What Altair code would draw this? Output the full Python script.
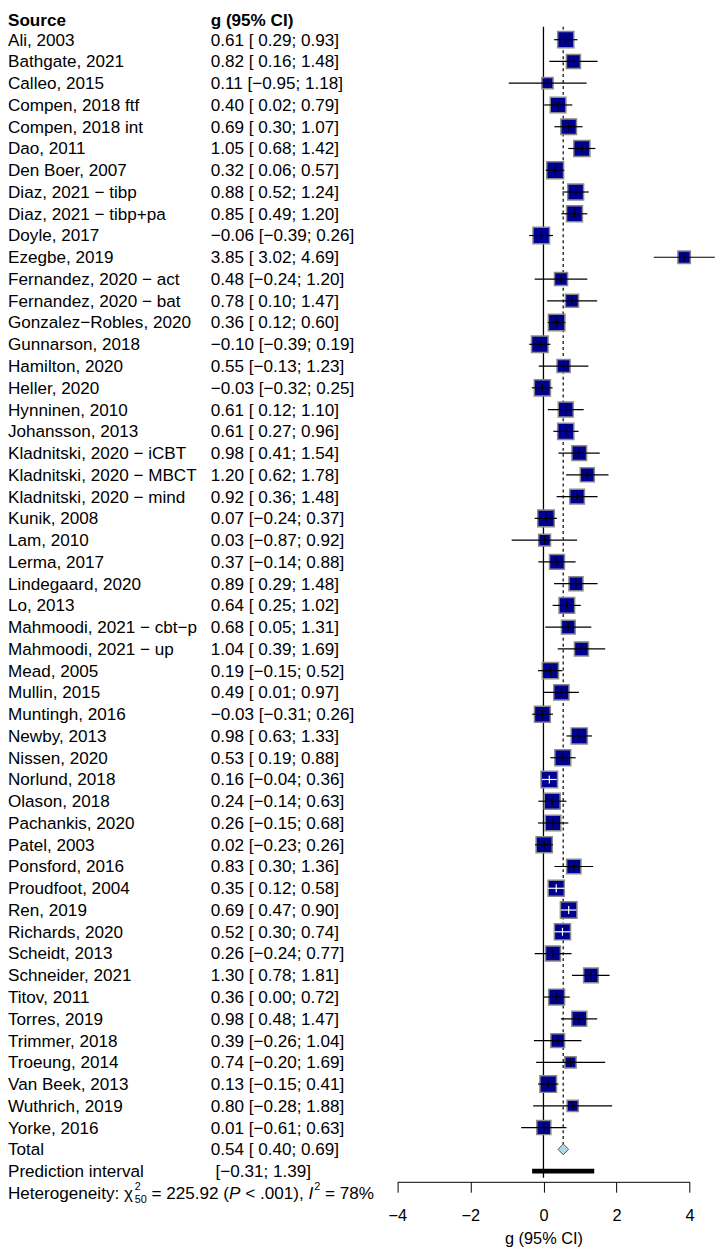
import altair as alt
import pandas as pd

# ---------------- data ----------------
studies = [
    "Ali, 2003", "Bathgate, 2021", "Calleo, 2015", "Compen, 2018 ftf", "Compen, 2018 int",
    "Dao, 2011", "Den Boer, 2007", "Diaz, 2021 \u2212 tibp", "Diaz, 2021 \u2212 tibp+pa", "Doyle, 2017",
    "Ezegbe, 2019", "Fernandez, 2020 \u2212 act", "Fernandez, 2020 \u2212 bat", "Gonzalez\u2212Robles, 2020",
    "Gunnarson, 2018", "Hamilton, 2020", "Heller, 2020", "Hynninen, 2010", "Johansson, 2013",
    "Kladnitski, 2020 \u2212 iCBT", "Kladnitski, 2020 \u2212 MBCT", "Kladnitski, 2020 \u2212 mind",
    "Kunik, 2008", "Lam, 2010", "Lerma, 2017", "Lindegaard, 2020", "Lo, 2013",
    "Mahmoodi, 2021 \u2212 cbt\u2212p", "Mahmoodi, 2021 \u2212 up", "Mead, 2005", "Mullin, 2015",
    "Muntingh, 2016", "Newby, 2013", "Nissen, 2020", "Norlund, 2018", "Olason, 2018",
    "Pachankis, 2020", "Patel, 2003", "Ponsford, 2016", "Proudfoot, 2004", "Ren, 2019",
    "Richards, 2020", "Scheidt, 2013", "Schneider, 2021", "Titov, 2011", "Torres, 2019",
    "Trimmer, 2018", "Troeung, 2014", "Van Beek, 2013", "Wuthrich, 2019", "Yorke, 2016",
]
g = [0.61, 0.82, 0.11, 0.40, 0.69, 1.05, 0.32, 0.88, 0.85, -0.06,
     3.85, 0.48, 0.78, 0.36, -0.10, 0.55, -0.03, 0.61, 0.61, 0.98,
     1.20, 0.92, 0.07, 0.03, 0.37, 0.89, 0.64, 0.68, 1.04, 0.19,
     0.49, -0.03, 0.98, 0.53, 0.16, 0.24, 0.26, 0.02, 0.83, 0.35,
     0.69, 0.52, 0.26, 1.30, 0.36, 0.98, 0.39, 0.74, 0.13, 0.80, 0.01]
lo = [0.29, 0.16, -0.95, 0.02, 0.30, 0.68, 0.06, 0.52, 0.49, -0.39,
      3.02, -0.24, 0.10, 0.12, -0.39, -0.13, -0.32, 0.12, 0.27, 0.41,
      0.62, 0.36, -0.24, -0.87, -0.14, 0.29, 0.25, 0.05, 0.39, -0.15,
      0.01, -0.31, 0.63, 0.19, -0.04, -0.14, -0.15, -0.23, 0.30, 0.12,
      0.47, 0.30, -0.24, 0.78, 0.00, 0.48, -0.26, -0.20, -0.15, -0.28, -0.61]
hi = [0.93, 1.48, 1.18, 0.79, 1.07, 1.42, 0.57, 1.24, 1.20, 0.26,
      4.69, 1.20, 1.47, 0.60, 0.19, 1.23, 0.25, 1.10, 0.96, 1.54,
      1.78, 1.48, 0.37, 0.92, 0.88, 1.48, 1.02, 1.31, 1.69, 0.52,
      0.97, 0.26, 1.33, 0.88, 0.36, 0.63, 0.68, 0.26, 1.36, 0.58,
      0.90, 0.74, 0.77, 1.81, 0.72, 1.47, 1.04, 1.69, 0.41, 1.88, 0.63]
# estimated study weights (%), read from the square sizes
weight = [2.26, 1.70, 1.09, 2.11, 2.11, 2.26, 2.45, 2.18, 2.18, 2.37,
          1.34, 1.48, 1.48, 2.37, 2.37, 1.48, 2.26, 1.93, 2.26, 1.86,
          1.70, 1.86, 2.37, 1.22, 1.93, 1.70, 2.11, 1.63, 1.70, 2.26,
          2.01, 2.18, 2.26, 2.18, 2.37, 2.18, 2.11, 2.26, 1.77, 2.26,
          2.37, 2.26, 1.93, 1.86, 2.18, 1.93, 1.63, 1.09, 2.37, 1.09, 1.70]
# studies whose CI lies inside the square (line drawn white)
ci_inside = ["Norlund, 2018", "Proudfoot, 2004", "Ren, 2019", "Richards, 2020"]

total_est, total_lo, total_hi = 0.54, 0.40, 0.69
pred_lo, pred_hi = -0.31, 1.39
q_stat, q_df, p_text, i2 = 225.92, 50, "< .001", 78
x_ticks = [-4, -2, 0, 2, 4]

MINUS = "\u2212"


def num(v, w=0):
    s = f"{v:{w}.2f}"
    return s.replace("-", MINUS)


def ci_text(e, l, h):
    return f"{num(e)} [{num(l, 5)}; {num(h)}]"


n = len(studies)
df = pd.DataFrame({
    "study": studies, "g": g, "lo": lo, "hi": hi, "weight": weight,
    "row": list(range(n)),
})
df["col"] = ["white" if s in ci_inside else "black" for s in studies]
df["label"] = [ci_text(a, b, c) for a, b, c in zip(g, lo, hi)]

text_rows = pd.DataFrame({
    "row": list(range(n)) + [n, n + 1],
    "name": studies + ["Total", "Prediction interval"],
    "value": list(df["label"]) + [ci_text(total_est, total_lo, total_hi), ""],
})
pi_text = pd.DataFrame({"row": [n + 1], "value": [f"[{num(pred_lo)}; {num(pred_hi)}]"]})
header = pd.DataFrame({"row": [-1], "name": ["Source"], "value": ["g (95% CI)"]})

diamond = pd.DataFrame({
    "x": [total_lo, total_est, total_hi],
    "ytop": [n, n - 0.25, n],
    "ybot": [n, n + 0.25, n],
})
pred = pd.DataFrame({"lo": [pred_lo], "hi": [pred_hi], "row": [n + 1]})
ref_solid = pd.DataFrame({"x": [0.0], "y": [-0.6], "y2": [n + 1.3]})
ref_dash = pd.DataFrame({"x": [total_est], "y": [-0.6], "y2": [n - 0.25]})

# ---------------- styling / scales ----------------
FONT = "Liberation Sans"
FS = 17.3
SMALL = 11.0
VALCOL = 205
x_scale = alt.Scale(domain=[-4, 4], range=[393.7, 689.3], nice=False, zero=False)
y_scale = alt.Scale(domain=[0, 53], range=[25, 1191.2], nice=False, zero=False)
x_axis = alt.Axis(values=x_ticks, title="g (95% CI)", grid=False,
                  labelFontSize=16.5, titleFontSize=16.5, titleFontWeight="normal",
                  labelFont=FONT, titleFont=FONT, tickSize=10.5, labelPadding=16,
                  titlePadding=6, domainColor="black", tickColor="black",
                  labelColor="black", titleColor="black", domainWidth=1, tickWidth=1,
                  labelFlush=False)


def X(field):
    return alt.X(field, type="quantitative", scale=x_scale, axis=x_axis)


def Y(field):
    return alt.Y(field, type="quantitative", scale=y_scale, axis=None)


solid = alt.Chart(ref_solid).mark_rule(color="black", strokeWidth=1.3).encode(
    x=X("x"), y=Y("y"), y2="y2")
dashed = alt.Chart(ref_dash).mark_rule(color="black", strokeWidth=1.2, strokeDash=[3, 3]).encode(
    x=X("x"), y=Y("y"), y2="y2")

squares = alt.Chart(df).mark_square(fill="#000090", stroke="#8a8a8a", strokeWidth=1.5,
                                    opacity=1, filled=True).encode(
    x=X("g"), y=Y("row"),
    size=alt.Size("weight:Q", scale=alt.Scale(domain=[0, 3], range=[0, 355]), legend=None))

ci = alt.Chart(df).mark_rule(strokeWidth=1.2).encode(
    x=X("lo"), x2="hi", y=Y("row"), color=alt.Color("col:N", scale=None))

est_tick = alt.Chart(df).mark_tick(orient="vertical", size=8, thickness=1.2, opacity=1).encode(
    x=X("g"), y=Y("row"), color=alt.Color("col:N", scale=None))

dia = alt.Chart(diamond).mark_area(orient="vertical", fill="#add8e6", stroke="#555555",
                                   strokeWidth=1, opacity=1).encode(
    x=X("x"), y=Y("ytop"), y2="ybot")

pi_bar = alt.Chart(pred).mark_rule(color="black", strokeWidth=5, strokeCap="butt").encode(
    x=X("lo"), x2="hi", y=Y("row"))

# ---- text metrics (Arial / Liberation Sans advance widths, per 1000 em) ----
ADV = {" ": 278, ".": 278, ",": 278, ":": 278, "(": 333, ")": 333, "=": 584,
       "<": 584, "%": 889, "H": 722, "P": 667, "I": 278, "e": 556, "t": 278, "r": 333,
       "o": 556, "g": 556, "n": 556, "i": 222, "y": 500, "\u03c7": 540}


def tw(s, fs):
    return sum(ADV.get(c, 556) for c in s) / 1000.0 * fs


txt = dict(align="left", baseline="middle", font=FONT, fontSize=FS, color="black")
names = alt.Chart(text_rows).mark_text(dy=1, **txt).encode(
    x=alt.value(0), y=Y("row"), text="name:N")
values = alt.Chart(text_rows).mark_text(dy=1, **txt).encode(
    x=alt.value(VALCOL), y=Y("row"), text="value:N")
pi_values = alt.Chart(pi_text).mark_text(dy=1, **txt).encode(
    x=alt.value(VALCOL + tw(" ", FS)), y=Y("row"), text="value:N")
head_names = alt.Chart(header).mark_text(dy=3.5, fontWeight="bold", **txt).encode(
    x=alt.value(0), y=Y("row"), text="name:N")
head_values = alt.Chart(header).mark_text(dy=3.5, fontWeight="bold", **txt).encode(
    x=alt.value(VALCOL), y=Y("row"), text="value:N")

# ---- heterogeneity line, built from styled pieces ----
pieces = [
    ("Heterogeneity: ", "reg"),
    ("\u03c7", "reg"),
    (("2", f"{q_df}"), "supsub"),
    (f" = {q_stat:.2f} (", "reg"),
    ("P", "ital"),
    (f" {p_text}), ", "reg"),
    ("I", "ital"),
    ("2", "sup"),
    (f" = {i2}%", "reg"),
]
het_layers = []
xpos = 0.0
het_df = pd.DataFrame({"row": [n + 2]})
small = dict(align="left", baseline="middle", font=FONT, fontSize=SMALL, color="black")
for content, kind in pieces:
    if kind == "supsub":
        sup, sub = content
        het_layers.append(alt.Chart(het_df).mark_text(dy=-5.5, text=sup, **small).encode(
            x=alt.value(xpos + 1.5), y=Y("row")))
        het_layers.append(alt.Chart(het_df).mark_text(dy=7.5, text=sub, **small).encode(
            x=alt.value(xpos + 1.5), y=Y("row")))
        xpos += max(tw(sup, SMALL), tw(sub, SMALL)) + 1.5
    elif kind == "sup":
        het_layers.append(alt.Chart(het_df).mark_text(dy=-5.5, text=content, **small).encode(
            x=alt.value(xpos + 1), y=Y("row")))
        xpos += tw(content, SMALL) + 1
    else:
        style = "italic" if kind == "ital" else "normal"
        core = content.strip(" ")
        lead = len(content) - len(content.lstrip(" "))
        het_layers.append(alt.Chart(het_df).mark_text(
            fontStyle=style, dy=1, text=core, **txt).encode(
            x=alt.value(xpos + tw(" " * lead, FS)), y=Y("row")))
        xpos += tw(content, FS)

chart = alt.layer(
    solid, dashed, squares, ci, est_tick, dia, pi_bar,
    names, values, pi_values, head_names, head_values, *het_layers,
).properties(
    width=717, height=1180,
    autosize=alt.AutoSizeParams(type="none"),
    padding={"left": 0, "top": 0, "right": 0, "bottom": 70},
    background="white",
).configure_view(stroke=None)

chart.save("out.html", embed_options={"renderer": "svg", "actions": False})
